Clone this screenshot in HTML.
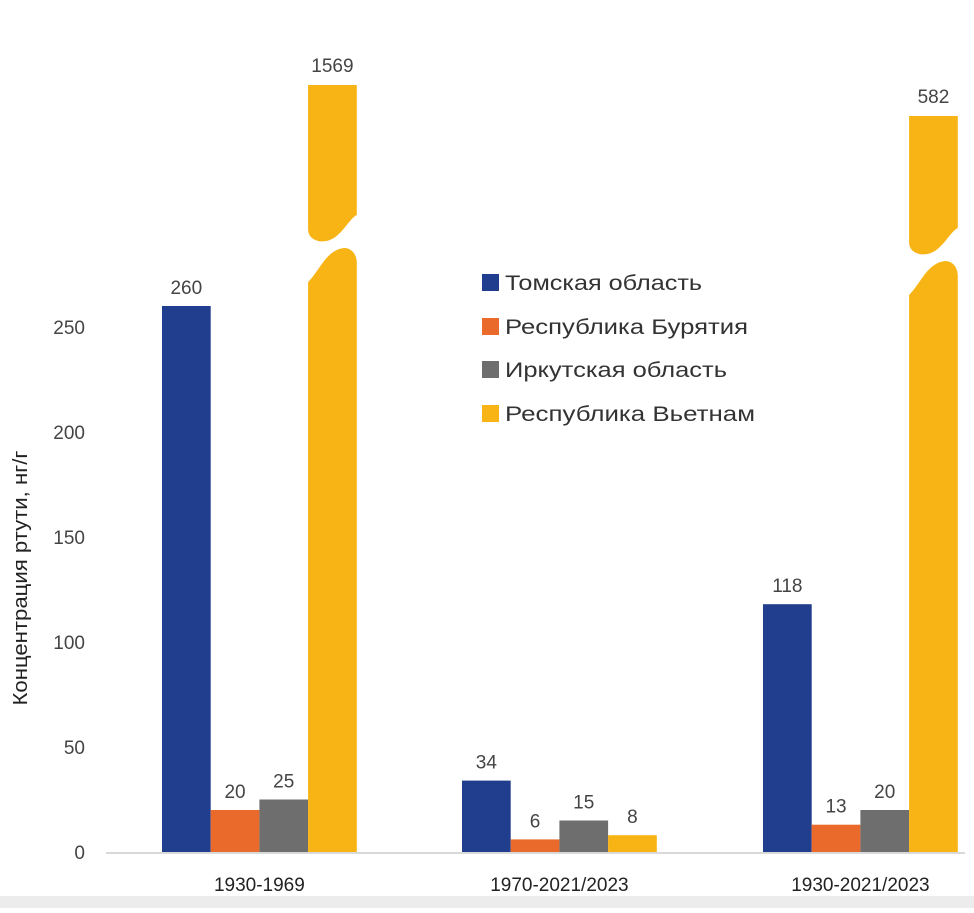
<!DOCTYPE html>
<html><head><meta charset="utf-8"><style>
body{margin:0;background:#fff;}
svg text{font-family:"Liberation Sans","DejaVu Sans",sans-serif;}
</style></head><body>
<svg id="c" width="974" height="908" xmlns="http://www.w3.org/2000/svg">
<rect x="0" y="896" width="974" height="12" fill="#ececec"/>
</svg>
<script>
const categories=["1930-1969","1970-2021/2023","1930-2021/2023"];
const seriesNames=["Томская область","Республика Бурятия","Иркутская область","Республика Вьетнам"];
const tomsk=[260,34,118];
const buryatia=[20,6,13];
const irkutsk=[25,15,20];
const vietnam=[1569,8,582];
const yTicks=[0,50,100,150,200,250];
const colors=["#213d8e","#e96a2a","#6e6e6e","#f8b415"];
const series=[tomsk,buryatia,irkutsk,vietnam];
const NS="http://www.w3.org/2000/svg";
const svg=document.getElementById('c');
const y0=852,pxPer=2.1;
function y(v){return y0-v*pxPer;}
const groupStart=[162,462,763],barW=48.7;
function x(g,s){return groupStart[g]+s*barW;}
function mk(tag,attrs,parent){const e=document.createElementNS(NS,tag);for(const k in attrs)e.setAttribute(k,attrs[k]);(parent||svg).appendChild(e);return e;}
const ax=mk('line',{x1:106,x2:965,y1:y0+1,y2:y0+1,stroke:'#d9d9d9','stroke-width':2});


yTicks.forEach(t=>{const e=mk('text',{x:85,y:y(t)+7,'text-anchor':'end','font-size':19,fill:'#444'});e.textContent=t;

});
categories.forEach((c,g)=>{const e=mk('text',{x:x(g,2),y:891,'text-anchor':'middle','font-size':19,fill:'#222'});e.textContent=c;

});
const yt=mk('text',{x:0,y:0,transform:'translate(27,578) rotate(-90)','text-anchor':'middle','font-size':20,fill:'#222',textLength:255,lengthAdjust:'spacingAndGlyphs'});yt.textContent='Концентрация ртути, нг/г';


const maxAxis=275;
series.forEach((vals,s)=>{vals.forEach((v,g)=>{
 const bx=x(g,s),w=barW;
 let el;
 if(v<=maxAxis){
  el=mk('rect',{x:bx,y:y(v),width:w,height:v*pxPer,fill:colors[s]});
  const t=mk('text',{x:bx+w/2,y:y(v)-12,'text-anchor':'middle','font-size':19,fill:'#444'});t.textContent=v;
  
  
 }else{
  const f=(1569-v)/(1569-582);
  const topY=85+f*31;
  const bTop=215+f*13, bBot=bTop+55;
  const g1=mk('g',{fill:colors[s]});
  mk('path',{d:`M${bx},${topY} H${bx+w} V${bTop} C${bx+w-10},${bTop+5} ${bx+w-18},${bTop+30} ${bx+10},${bTop+26} C${bx+3},${bTop+24} ${bx},${bTop+20} ${bx},${bTop+14} Z`},g1);
  mk('path',{d:`M${bx},${bBot+12} C${bx+12},${bBot} ${bx+18},${bTop+35} ${bx+36},${bTop+33} C${bx+44},${bTop+33} ${bx+w},${bTop+40} ${bx+w},${bTop+48} V${y0} H${bx} Z`},g1);
  el=g1;
  const t=mk('text',{x:bx+w/2,y:topY-13,'text-anchor':'middle','font-size':19,fill:'#444'});t.textContent=v;
  
  
 }
 
 
});});
const ly=[283,327,370,414];
const lw=[197,243,222,250];
seriesNames.forEach((n,i)=>{
 const r=mk('rect',{x:482,y:ly[i]-9,width:17,height:17,fill:colors[i]});
 
 
 const t=mk('text',{x:505,y:ly[i]+7,'font-size':21,fill:'#333',textLength:lw[i],lengthAdjust:'spacingAndGlyphs'});t.textContent=n;
 
 
});
</script>
</body></html>
